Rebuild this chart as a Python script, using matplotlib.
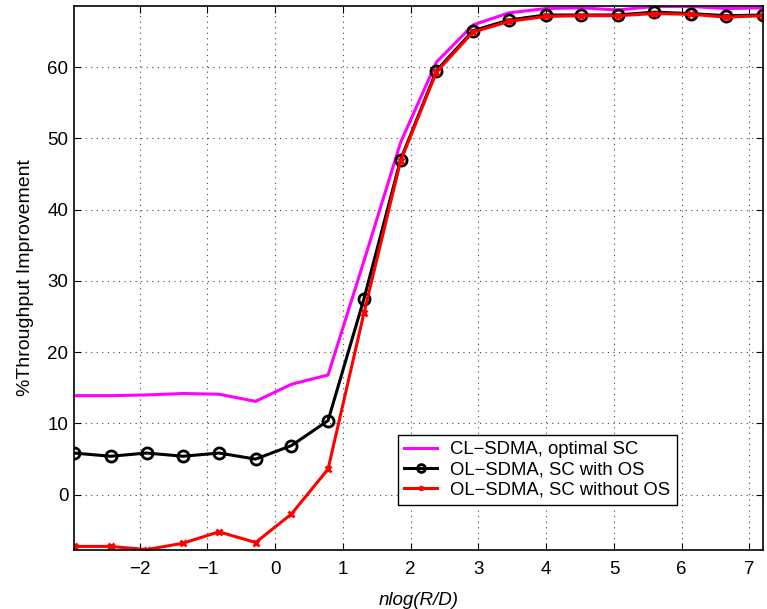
import numpy as np
import matplotlib
matplotlib.use('Agg')
import matplotlib.pyplot as plt

plt.rcParams['font.family'] = ['Liberation Sans', 'DejaVu Sans']

# x positions (nlog(R/D))
x = [-2.97, -2.43, -1.90, -1.36, -0.83, -0.29, 0.24, 0.78, 1.31, 1.85,
     2.38, 2.92, 3.45, 3.99, 4.52, 5.06, 5.59, 6.13, 6.66, 7.20]

cl_opt = [13.9, 13.9, 14.0, 14.2, 14.1, 13.1, 15.5, 16.8, 32.8, 49.4,
          60.7, 65.9, 67.6, 68.2, 68.3, 68.0, 68.5, 68.5, 68.2, 68.3]
ol_os = [5.85, 5.4, 5.85, 5.4, 5.85, 5.0, 6.9, 10.4, 27.5, 47.0,
         59.5, 65.1, 66.6, 67.3, 67.3, 67.3, 67.7, 67.5, 67.2, 67.3]
ol_noos = [-7.25, -7.25, -7.7, -6.8, -5.2, -6.7, -2.7, 3.6, 25.5, 46.8,
           59.3, 64.9, 66.4, 67.1, 67.2, 67.2, 67.5, 67.4, 67.0, 67.2]

labels = ['CL\u2212SDMA, optimal SC', 'OL\u2212SDMA, SC with OS',
          'OL\u2212SDMA, SC without OS']

fig = plt.figure(figsize=(7.67, 6.09), dpi=100)
ax = fig.add_axes([0.0965, 0.0969, 0.8983, 0.8937])

ax.plot(x, cl_opt, color='#ff00ff', lw=2.2, label=labels[0])
ax.plot(x, ol_os, color='black', lw=2.2, marker='o', ms=8, mew=2,
        mfc='none', label=labels[1])
ax.plot(x, ol_noos, color='red', lw=2.2, marker='x', ms=5, mew=2,
        label=labels[2])

ax.set_xlim(-2.97, 7.2)
ax.set_ylim(-7.75, 68.6)
ax.set_xticks(range(-2, 8))
ax.set_yticks(range(0, 70, 10))
ax.grid(True, linestyle=(0, (1, 4)), color='#444444', lw=0.8)
ax.tick_params(direction='in', top=True, right=True, labelsize=13.5, length=5)
ax.tick_params(axis='x', pad=8)
ax.tick_params(axis='y', pad=4)
for s in ax.spines.values():
    s.set_linewidth(1.2)

ax.set_xlabel('nlog(R/D)', fontstyle='italic', fontsize=13.5, va='center')
ax.set_ylabel('%Throughput Improvement', fontsize=14, va='center')
ax.xaxis.set_label_coords(0.5, -0.092)
ax.yaxis.set_label_coords(-0.07, 0.5)

leg = ax.legend(loc='lower right', bbox_to_anchor=(0.875, 0.083), fontsize=13.3,
                fancybox=False, edgecolor='black', framealpha=1,
                handlelength=1.8, borderpad=0.35, labelspacing=0.17,
                markerscale=0.7, handletextpad=0.7, borderaxespad=0)
leg.get_frame().set_linewidth(1.0)

fig.savefig('out.png', dpi=100)
